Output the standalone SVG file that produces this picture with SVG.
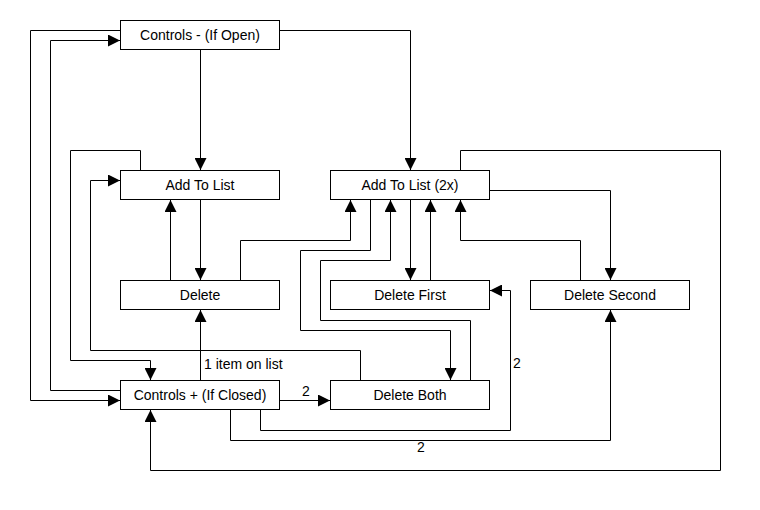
<svg xmlns="http://www.w3.org/2000/svg" width="760" height="510" viewBox="0 0 760 510">
  <style>
    .box { fill: #ffffff; stroke: #000000; stroke-width: 1; }
    .lbl { font-family: "Liberation Sans", Arial, sans-serif; font-size: 14px; fill: #000000; text-anchor: middle; }
    .note { font-family: "Liberation Sans", Arial, sans-serif; font-size: 14px; fill: #000000; }
    .edge { fill: none; stroke: #000000; stroke-width: 1; marker-end: url(#arrow); }
  </style>
  <defs>
    <marker id="arrow" markerUnits="userSpaceOnUse" viewBox="0 0 12 12" markerWidth="12" markerHeight="12" refX="12" refY="6" orient="auto">
      <path d="M0,0 L12,6 L0,12 z" fill="#000000"/>
    </marker>
  </defs>
  <rect width="760" height="510" fill="#ffffff"/>

  <g id="connectors">
    <path class="edge" d="M200.5,50 V170"/>
    <path class="edge" d="M280,30.5 H410.5 V170"/>
    <path class="edge" d="M120,30.5 H30.5 V400.5 H120"/>
    <path class="edge" d="M120,390.5 H50.5 V40.5 H120"/>
    <path class="edge" d="M140.5,170 V150.5 H70.5 V360.5 H150.5 V380"/>
    <path class="edge" d="M360.5,380 V350.5 H90.5 V180.5 H120"/>
    <path class="edge" d="M200.5,200 V280"/>
    <path class="edge" d="M170.5,280 V200"/>
    <path class="edge" d="M200.5,380 V310"/>
    <path class="edge" d="M240.5,280 V240.5 H350.5 V200"/>
    <path class="edge" d="M370.5,200 V250.5 H300.5 V330.5 H450.5 V380"/>
    <path class="edge" d="M470.5,380 V320.5 H320.5 V260.5 H390.5 V200"/>
    <path class="edge" d="M410.5,200 V280"/>
    <path class="edge" d="M430.5,280 V200"/>
    <path class="edge" d="M580.5,280 V240.5 H460.5 V200"/>
    <path class="edge" d="M490,190.5 H610.5 V280"/>
    <path class="edge" d="M460.5,170 V150.5 H720.5 V470.5 H150.5 V410"/>
    <path class="edge" d="M280,400.5 H330"/>
    <path class="edge" d="M260.5,410 V430.5 H510.5 V290.5 H490"/>
    <path class="edge" d="M230.5,410 V440.5 H610.5 V310"/>
    <text class="note" x="204" y="369">1 item on list</text>
    <text class="lbl" x="306" y="396">2</text>
    <text class="lbl" x="517" y="368">2</text>
    <text class="lbl" x="421" y="452">2</text>
  </g>

  <g id="controls-open">
    <rect class="box" x="120.5" y="20.5" width="159" height="29"/>
    <text class="lbl" x="200" y="40">Controls - (If Open)</text>
  </g>
  <g id="add-to-list">
    <rect class="box" x="120.5" y="170.5" width="159" height="29"/>
    <text class="lbl" x="200" y="190">Add To List</text>
  </g>
  <g id="add-to-list-2x">
    <rect class="box" x="330.5" y="170.5" width="159" height="29"/>
    <text class="lbl" x="410" y="190">Add To List (2x)</text>
  </g>
  <g id="delete">
    <rect class="box" x="120.5" y="280.5" width="159" height="29"/>
    <text class="lbl" x="200" y="300">Delete</text>
  </g>
  <g id="delete-first">
    <rect class="box" x="330.5" y="280.5" width="159" height="29"/>
    <text class="lbl" x="410" y="300">Delete First</text>
  </g>
  <g id="delete-second">
    <rect class="box" x="530.5" y="280.5" width="159" height="29"/>
    <text class="lbl" x="610" y="300">Delete Second</text>
  </g>
  <g id="controls-closed">
    <rect class="box" x="120.5" y="380.5" width="159" height="29"/>
    <text class="lbl" x="200" y="400">Controls + (If Closed)</text>
  </g>
  <g id="delete-both">
    <rect class="box" x="330.5" y="380.5" width="159" height="29"/>
    <text class="lbl" x="410" y="400">Delete Both</text>
  </g>
</svg>
